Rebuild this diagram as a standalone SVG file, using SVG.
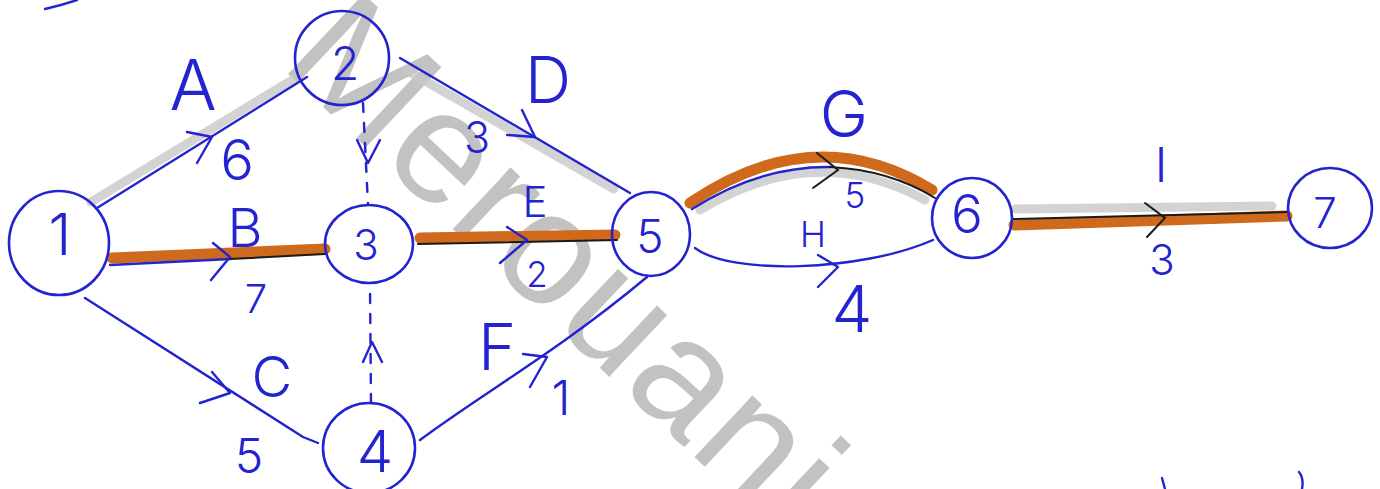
<svg xmlns="http://www.w3.org/2000/svg" width="1380" height="489" viewBox="0 0 1380 489">
<style>
.wm{font-family:"Liberation Sans",Arial,sans-serif;font-size:160px;fill:#c2c2c2;letter-spacing:3px}
.node ellipse{fill:none;stroke:#2323cf;stroke-width:2.6}
.lbl{font-family:Inter,"Liberation Sans",Arial,sans-serif;font-weight:300;fill:#2323cf;text-anchor:middle}
.e{fill:none;stroke:#2323cf;stroke-width:2.4;stroke-linecap:round;stroke-linejoin:round}
.crit{fill:none;stroke:#cf6a1c;stroke-width:11;stroke-linecap:round}
.blk{fill:none;stroke:#1a1a1a;stroke-width:2;stroke-linecap:round}
.hl{fill:none;stroke:#c8c8c8;stroke-width:9;stroke-linecap:round;opacity:.8}
.dash{stroke-dasharray:9 11}
</style>
<rect width="1380" height="489" fill="#ffffff"/>
<text class="wm" x="530" y="302" text-anchor="middle" transform="rotate(43.3 530 302)">Merouani</text>
<g id="connectors">
  <path class="hl" d="M91,202 L292,80"/>
  <path class="hl" d="M406,70 L614,189"/>
  <path class="hl" d="M700,210 Q815,140 925,200" stroke-width="7"/>
  <path class="hl" d="M1015,209 L1272,206" stroke="#d6cccc"/>
  <path class="e" d="M97,208 L307,77"/>
  <path class="e" d="M187,132 L212,137 L197,163"/>
  <path class="crit" d="M112,258 L325,249"/>
  <path class="e" d="M110,265 L230,259"/>
  <path class="blk" d="M230,259 L325,254"/>
  <path class="e" d="M213,243 L230,257 L211,280"/>
  <path class="e" d="M85,298 Q170,352 303,437 L318,443"/>
  <path class="e" d="M212,372 L230,393 L200,403"/>
  <path class="e" d="M400,58 L630,193"/>
  <path class="e" d="M522,110 L535,137 L507,135"/>
  <path class="crit" d="M420,238 L615,235"/>
  <path class="blk" d="M418,244 L617,240"/>
  <path class="e" d="M507,227 L527,240 L500,263"/>
  <path class="e" d="M420,440 C480,395 560,350 647,277"/>
  <path class="e" d="M523,354 L547,357 L530,387"/>
  <path class="crit" d="M690,203 Q815,118 932,190"/>
  <path class="e" d="M692,209 Q760,166 830,167"/>
  <path class="blk" d="M830,167 Q890,170 935,198"/>
  <path class="blk" d="M817,153 L838,170 L813,188"/>
  <path class="e" d="M695,248 C730,275 860,272 933,240"/>
  <path class="e" d="M818,255 L838,267 L818,287"/>
  <path class="crit" d="M1014,225 L1287,216"/>
  <path class="blk" d="M1012,219 L1288,212"/>
  <path class="blk" d="M1145,203 L1165,218 L1147,237"/>
  <path class="e dash" d="M363,103 L368,205"/>
  <path class="e" d="M357,140 L368,163 L380,140"/>
  <path class="e dash" d="M371,403 L370,285"/>
  <path class="e" d="M363,362 L372,342 L382,362"/>
  <path class="e" d="M45,9 Q62,5 77,0"/>
  <path class="e" d="M1162,478 L1165,489"/>
  <path class="e" d="M1299,472 Q1304,478 1302,489"/>
</g>
<g id="node1" class="node"><ellipse cx="59" cy="243" rx="50" ry="52"/><text class="lbl" x="60" y="255" font-size="58">1</text></g>
<g id="node2" class="node"><ellipse cx="342" cy="58" rx="47" ry="47"/><text class="lbl" x="345" y="80" font-size="46">2</text></g>
<g id="node3" class="node"><ellipse cx="369" cy="244" rx="44" ry="39"/><text class="lbl" x="366" y="260" font-size="42">3</text></g>
<g id="node4" class="node"><ellipse cx="369" cy="448" rx="46" ry="45"/><text class="lbl" x="375" y="472" font-size="58">4</text></g>
<g id="node5" class="node"><ellipse cx="651" cy="234" rx="39" ry="42"/><text class="lbl" x="650" y="253" font-size="46">5</text></g>
<g id="node6" class="node"><ellipse cx="972" cy="218" rx="40" ry="40"/><text class="lbl" x="967" y="233" font-size="53">6</text></g>
<g id="node7" class="node"><ellipse cx="1330" cy="208" rx="42" ry="40"/><text class="lbl" x="1325" y="228" font-size="42">7</text></g>
<g id="labels">
  <text class="lbl" x="193" y="110" font-size="70">A</text>
  <text class="lbl" x="237" y="180" font-size="56">6</text>
  <text class="lbl" x="245" y="247" font-size="54">B</text>
  <text class="lbl" x="256" y="313" font-size="40">7</text>
  <text class="lbl" x="272" y="397" font-size="56">C</text>
  <text class="lbl" x="249" y="473" font-size="48">5</text>
  <text class="lbl" x="548" y="103" font-size="64">D</text>
  <text class="lbl" x="477" y="153" font-size="43">3</text>
  <text class="lbl" x="535" y="217" font-size="42">E</text>
  <text class="lbl" x="537" y="287" font-size="35">2</text>
  <text class="lbl" x="497" y="370" font-size="65">F</text>
  <text class="lbl" x="561" y="415" font-size="48">1</text>
  <text class="lbl" x="844" y="137" font-size="65">G</text>
  <text class="lbl" x="855" y="208" font-size="35">5</text>
  <text class="lbl" x="813" y="247" font-size="35">H</text>
  <text class="lbl" x="852" y="332" font-size="65">4</text>
  <text class="lbl" x="1161" y="182" font-size="48">I</text>
  <text class="lbl" x="1162" y="275" font-size="42">3</text>
</g>
</svg>
